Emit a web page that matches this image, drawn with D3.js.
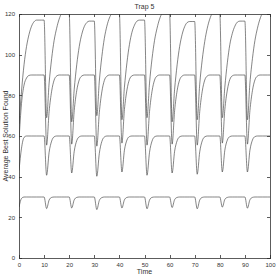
<!DOCTYPE html>
<html>
<head>
<meta charset="utf-8">
<script src="https://cdn.jsdelivr.net/npm/d3@7"></script>
<style>
  html, body { margin: 0; padding: 0; background: #fff; }
  svg { display: block; }
  .axis text { font-family: "Liberation Sans", Arial, Helvetica, sans-serif; font-size: 6px; fill: #333; }
  .axis path, .axis line { stroke: #333; stroke-width: 0.8; shape-rendering: crispEdges; }
  .lbl { font-family: "Liberation Sans", Arial, Helvetica, sans-serif; font-size: 7px; fill: #333; }
</style>
</head>
<body>
<svg id="chart" width="277" height="277"></svg>
<script>
"use strict"

// time axis (generations)
const time = d3.range(0, 101)

const xTicks = [0, 10, 20, 30, 40, 50, 60, 70, 80, 90, 100]
const yTicks = [0, 20, 40, 60, 80, 100, 120]

// problem size 30 (6 traps)
const best30 = [
    25, 29.3, 30, 30, 30, 30, 30, 30, 30, 30, 30,
    24.3, 28.5, 29.8, 30, 30, 30, 30, 30, 30, 30,
    24.6, 28.6, 29.8, 30, 30, 30, 30, 30, 30, 30,
    23.8, 28.3, 29.7, 30, 30, 30, 30, 30, 30, 30,
    24.6, 28.6, 29.8, 30, 30, 30, 30, 30, 30, 30,
    24.2, 28.5, 29.8, 30, 30, 30, 30, 30, 30, 30,
    24.8, 28.7, 29.8, 30, 30, 30, 30, 30, 30, 30,
    24.2, 28.5, 29.8, 30, 30, 30, 30, 30, 30, 30,
    25.0, 28.8, 29.8, 30, 30, 30, 30, 30, 30, 30,
    24.5, 28.6, 29.8, 30, 30, 30, 30, 30, 30, 30
]

// problem size 60
const best60 = [
    43, 54, 59.3, 60, 60, 60, 60, 60, 60, 60, 60,
    40.7, 52, 57.5, 59.6, 60, 60, 60, 60, 60, 60,
    41.8, 52.5, 57.7, 59.6, 60, 60, 60, 60, 60, 60,
    40.2, 51.5, 57.3, 59.5, 60, 60, 60, 60, 60, 60,
    42.3, 53, 58, 59.7, 60, 60, 60, 60, 60, 60,
    40.7, 52, 57.5, 59.6, 60, 60, 60, 60, 60, 60,
    41.8, 52.5, 57.7, 59.6, 60, 60, 60, 60, 60, 60,
    41.2, 52.2, 57.6, 59.6, 60, 60, 60, 60, 60, 60,
    42.3, 53, 58, 59.7, 60, 60, 60, 60, 60, 60,
    42.3, 53, 58, 59.7, 60, 60, 60, 60, 60, 60
]

// problem size 90
const best90 = [
    58, 76, 85, 88.5, 89.8, 90, 90, 90, 90, 90, 90,
    55.5, 72, 82, 87.5, 89.5, 90, 90, 90, 90, 90,
    56, 72.5, 82.3, 87.6, 89.5, 90, 90, 90, 90, 90,
    55, 71.5, 81.7, 87.3, 89.4, 90, 90, 90, 90, 90,
    56.5, 73, 82.6, 87.8, 89.6, 90, 90, 90, 90, 90,
    55.5, 72, 82, 87.5, 89.5, 90, 90, 90, 90, 90,
    56, 72.5, 82.3, 87.6, 89.5, 90, 90, 90, 90, 90,
    55.5, 72, 82, 87.5, 89.5, 90, 90, 90, 90, 90,
    56.5, 73, 82.6, 87.8, 89.6, 90, 90, 90, 90, 90,
    56, 72.5, 82.3, 87.6, 89.5, 90, 90, 90, 90, 90
]

// problem size 120
const best120 = [
    66, 82, 95, 104, 110, 114, 116.2, 117, 117, 117, 117,
    69, 86, 98, 107, 113, 117.5, 120, 120, 120, 120,
    67, 83, 95, 104, 110, 113.8, 115.8, 116.5, 116.5, 116.5,
    70, 87, 99, 108, 114, 118, 120, 120, 120, 120,
    68, 84, 96, 105, 111, 114.5, 116.5, 117, 117, 117,
    69, 86, 98, 107, 113, 117.5, 120, 120, 120, 120,
    67, 83, 95, 104, 110, 113.8, 115.8, 116.3, 116.3, 116.3,
    68, 85.5, 97.5, 106.5, 113, 117.5, 120, 120, 120, 120,
    69, 84, 96, 105, 110.5, 114, 116, 116.5, 116.5, 116.5,
    68, 86, 98, 107, 113, 117.5, 120, 120, 120, 120
]

const series = [best30, best60, best90, best120]

const margin = {top: 14, right: 7, bottom: 19, left: 19},
    width = 277 - margin.left - margin.right,
    height = 277 - margin.top - margin.bottom

const svg = d3.select("#chart")
const g = svg.append("g")
    .attr("transform", "translate(" + margin.left + "," + margin.top + ")")

let x = d3.scaleLinear().domain([0, 100]).range([0, width])
let y = d3.scaleLinear().domain([0, 120]).range([height, 0])

// clip so lines sitting on 120 merge with the frame
g.append("clipPath").attr("id", "clip")
    .append("rect").attr("width", width).attr("height", height)

let line = d3.line()
    .x((d, i) => x(time[i]))
    .y(d => y(d))
    .curve(d3.curveMonotoneX)

g.append("g")
    .attr("clip-path", "url(#clip)")
    .selectAll("path")
    .data(series)
    .enter().append("path")
    .attr("d", line)
    .attr("fill", "none")
    .attr("stroke", "#333")
    .attr("stroke-width", 0.6)

// axes, matlab style: ticks inside on all four sides
g.append("g").attr("class", "axis")
    .attr("transform", "translate(0," + height + ")")
    .call(d3.axisBottom(x).tickValues(xTicks).tickSize(-3).tickPadding(5))

g.append("g").attr("class", "axis")
    .call(d3.axisTop(x).tickValues(xTicks).tickSize(-3).tickFormat(""))

g.append("g").attr("class", "axis")
    .call(d3.axisLeft(y).tickValues(yTicks).tickSize(-3).tickPadding(4))

g.append("g").attr("class", "axis")
    .attr("transform", "translate(" + width + ",0)")
    .call(d3.axisRight(y).tickValues(yTicks).tickSize(-3).tickFormat(""))

// labels
svg.append("text").attr("class", "lbl")
    .attr("x", margin.left + width / 2)
    .attr("y", 9)
    .attr("text-anchor", "middle")
    .text("Trap 5")

svg.append("text").attr("class", "lbl")
    .attr("x", margin.left + width / 2)
    .attr("y", 274)
    .attr("text-anchor", "middle")
    .text("Time")

svg.append("text").attr("class", "lbl")
    .attr("transform", "translate(8," + (margin.top + height / 2) + ") rotate(-90)")
    .attr("text-anchor", "middle")
    .text("Average Best Solution Found")
</script>
</body>
</html>
